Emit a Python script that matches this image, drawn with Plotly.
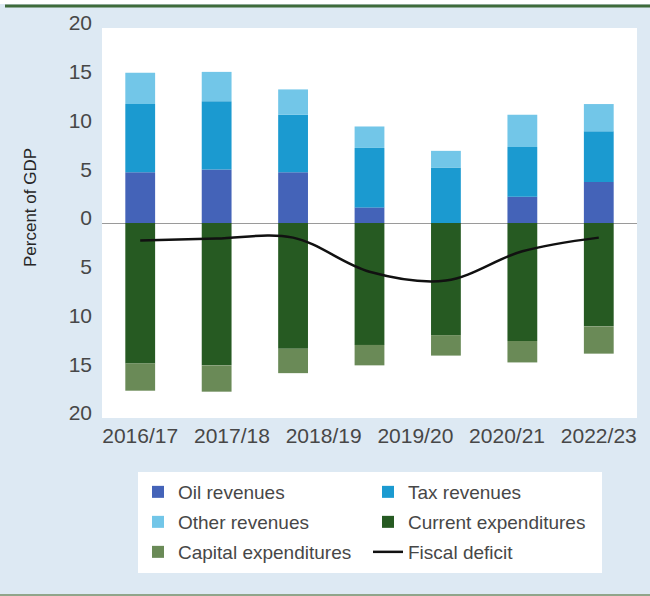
import plotly.graph_objects as go

# ---- data (percent of GDP) ----
bar_positions = [0, 1, 2, 3, 4, 5, 6]
oil_revenues = [5.2, 5.5, 5.2, 1.6, 0.0, 2.7, 4.2]
tax_revenues = [7.0, 7.0, 5.9, 6.1, 5.7, 5.1, 5.2]
other_revenues = [3.2, 3.0, 2.6, 2.2, 1.7, 3.3, 2.8]
current_expenditures = [-14.4, -14.6, -12.9, -12.5, -11.5, -12.1, -10.6]
capital_expenditures = [-2.8, -2.7, -2.5, -2.1, -2.1, -2.2, -2.8]
fiscal_deficit = [-1.8, -1.6, -1.5, -5.0, -5.9, -2.9, -1.5]

x_tick_labels = ["2016/17", "2017/18", "2018/19", "2019/20", "2020/21", "2022/23"]
x_tick_vals = [0, 1.2, 2.4, 3.6, 4.8, 6.0]
y_tick_vals = [20, 15, 10, 5, 0, -5, -10, -15, -20]
y_tick_text = ["20", "15", "10", "5", "0", "5", "10", "15", "20"]

FONT = "Liberation Sans, Arial, sans-serif"
TXT = "#474747"
BG = "#dde9f3"

W, H = 650, 596
L, R, T, B = 102, 13, 28, 178
PW, PH = W - L - R, H - T - B


def px(xp):
    return (xp - L) / PW


def py(yp):
    return (H - B - yp) / PH


bar_w = 0.39
fig = go.Figure()
series = [
    ("Oil revenues", oil_revenues, "#4463b8", "legend"),
    ("Tax revenues", tax_revenues, "#1b9ad0", "legend"),
    ("Other revenues", other_revenues, "#72c6e8", "legend2"),
    ("Current expenditures", current_expenditures, "#265a22", "legend2"),
    ("Capital expenditures", capital_expenditures, "#6a8a57", "legend3"),
]
for name, vals, col, lg in series:
    fig.add_trace(go.Bar(x=bar_positions, y=vals, name=name, width=bar_w,
                         marker=dict(color=col, line=dict(width=0)), legend=lg))

fig.add_trace(go.Scatter(x=bar_positions, y=fiscal_deficit, name="Fiscal deficit",
                         mode="lines", line=dict(color="#111111", width=2.5,
                                                 shape="spline", smoothing=1.0),
                         legend="legend3"))

legend_common = dict(orientation="h", bgcolor="rgba(0,0,0,0)", borderwidth=0,
                     font=dict(family=FONT, size=19, color=TXT),
                     entrywidth=185, entrywidthmode="pixels", itemwidth=30,
                     xanchor="left", yanchor="middle", traceorder="normal")
leg_x = px(138)

fig.update_layout(
    width=W, height=H,
    margin=dict(l=L, r=R, t=T, b=B, pad=0),
    paper_bgcolor=BG, plot_bgcolor="white",
    barmode="relative",
    showlegend=True,
    legend=dict(**legend_common, x=leg_x, y=py(492)),
    legend2=dict(**legend_common, x=leg_x, y=py(522)),
    legend3=dict(**legend_common, x=leg_x, y=py(552)),
    xaxis=dict(range=[-0.5, 6.5], tickvals=x_tick_vals, ticktext=x_tick_labels,
               showgrid=False, zeroline=False, showline=False, ticks="",
               tickfont=dict(family=FONT, size=21, color=TXT),
               ticklabelstandoff=3, fixedrange=True),
    yaxis=dict(range=[-20, 20], tickvals=y_tick_vals, ticktext=y_tick_text,
               showgrid=False, zeroline=True, zerolinecolor="#9a9a9a", zerolinewidth=1,
               showline=False, ticks="", ticklabelstandoff=9, ticklabelshift=-5,
               tickfont=dict(family=FONT, size=21, color=TXT), fixedrange=True),
    shapes=[
        dict(type="rect", xref="paper", yref="paper", x0=px(138), x1=px(602),
             y0=py(573), y1=py(472), fillcolor="white", line=dict(width=0), layer="below"),
        dict(type="rect", xref="paper", yref="paper", x0=px(0), x1=px(650),
             y0=py(4), y1=py(0), fillcolor="white", line=dict(width=0)),
        dict(type="line", xref="paper", yref="paper", x0=px(5), x1=px(650),
             y0=py(6), y1=py(6), line=dict(color="#3e6b3a", width=3)),
        dict(type="line", xref="paper", yref="paper", x0=px(0), x1=px(650),
             y0=py(595), y1=py(595), line=dict(color="#8fa58a", width=2)),
    ],
    annotations=[
        dict(text="Percent of GDP", xref="paper", yref="paper", x=px(30), y=py(208),
             textangle=-90, showarrow=False, xanchor="center", yanchor="middle",
             font=dict(family=FONT, size=17, color="#262626")),
    ],
)

fig.write_html("out.html", config={"displayModeBar": False},
               post_script="document.body.style.margin='0';document.body.style.overflow='hidden';")
